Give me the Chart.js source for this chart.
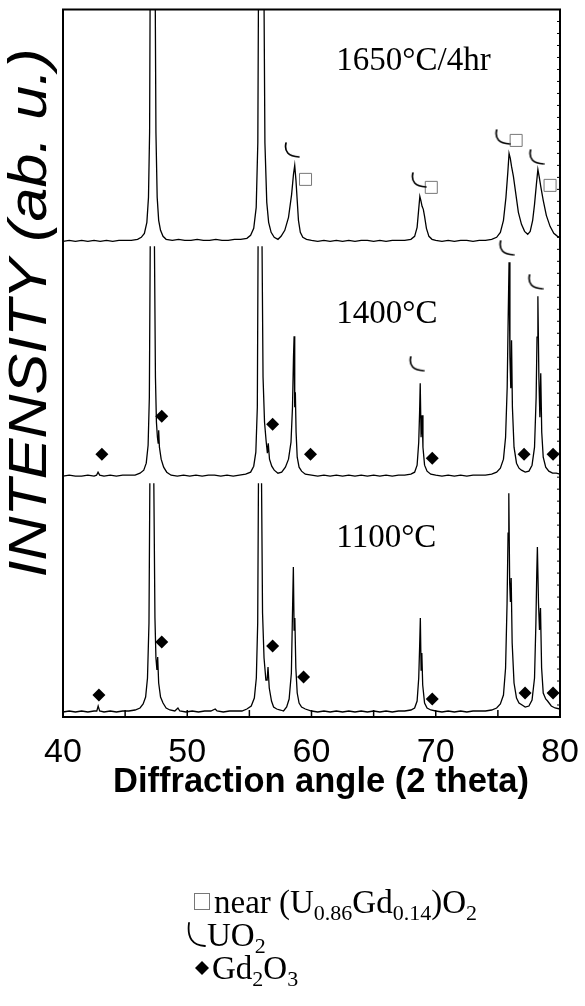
<!DOCTYPE html>
<html>
<head>
<meta charset="utf-8">
<script src="https://cdn.jsdelivr.net/npm/chart.js@4.4.1/dist/chart.umd.min.js"></script>
<style>
html, body { margin: 0; padding: 0; background: #fff; }
#wrap { width: 585px; height: 1006px; position: relative; }
</style>
</head>
<body>
<div id="wrap"><canvas id="xrd"></canvas></div>
<script>
// 2 theta / intensity, intensity above each trace's own baseline
// [angle, null] marks where a peak runs off the top of its band
var deg1650 = [
  [40,1],[40.5,2],[41,1],[41.5,2],[42,1],[42.5,2],[43,1],[43.5,2],[44,1],[44.5,2],[45,2],[45.5,2],[46,3],[46.3,5],[46.55,9],[46.75,20],[46.88,45],[46.97,110],[47.03,300],
  [47.4,300],[47.48,110],[47.58,45],[47.7,22],[47.85,12],[48.05,6],[48.3,3],[48.8,2],[49.3,3],[49.8,2],[50.3,2],[50.8,3],[51.3,2],[51.8,2],[52.3,3],[52.8,2],[53.3,2],[53.8,3],
  [54.3,3],[54.8,4],[55.1,7],[55.35,14],[55.55,35],[55.68,100],[55.75,300],[56.15,300],[56.25,100],[56.4,40],[56.55,20],[56.75,10],[57,5],[57.3,3],[57.55,6],[57.85,12],
  [58.15,25],[58.4,48],[58.55,68],[58.65,77],[58.75,62],[58.85,42],[58.95,22],[59.1,10],[59.3,5],[59.6,3],[60,2],[60.5,1],[61,2],[61.5,1],[62,2],[62.5,1],[63,2],[63.5,1],
  [64,2],[64.5,2],[65,1],[65.5,2],[66,1],[66.5,2],[67,2],[67.5,2],[68,3],[68.3,6],[68.5,15],[68.62,32],[68.72,46],[68.8,42],[68.9,36],[69,33],[69.1,26],[69.25,14],[69.45,6],
  [69.7,3],[70,2],[70.5,1],[71,2],[71.5,1],[72,2],[72.5,2],[73,1],[73.5,2],[74,2],[74.5,3],[74.9,5],[75.2,10],[75.45,22],[75.65,45],[75.8,70],[75.9,89],[76,84],[76.1,76],
  [76.25,66],[76.45,48],[76.65,30],[76.9,18],[77.15,11],[77.4,8],[77.6,11],[77.8,22],[77.95,38],[78.1,58],[78.22,73],[78.32,66],[78.45,56],[78.65,42],[78.9,27],[79.2,16],
  [79.5,9],[79.8,6],[80,5]
];
var deg1400 = [
  [40,1],[40.5,2],[41,1],[41.5,1],[42,2],[42.5,1],[42.7,2],[42.82,5],[42.95,2],[43.3,1],[43.8,2],[44.3,1],[44.8,2],[45.3,2],[45.8,2],[46.2,4],[46.5,7],[46.7,14],[46.85,32],
  [46.95,80],[47.02,231],[47.2,null],[47.36,231],[47.44,100],[47.52,55],[47.6,40],[47.66,34],[47.7,47],[47.76,30],[47.9,18],[48.1,10],[48.35,5],[48.7,2],[49.2,1],[49.7,2],
  [50.2,1],[50.7,2],[51.2,1],[51.7,2],[52.2,2],[52.7,1],[53.2,2],[53.7,1],[54.2,2],[54.7,3],[55.1,5],[55.35,11],[55.52,25],[55.64,70],[55.7,231],[55.85,null],[56.02,231],
  [56.1,100],[56.22,55],[56.35,36],[56.45,24],[56.52,34],[56.62,18],[56.8,11],[57,7],[57.3,4],[57.6,5],[57.9,10],[58.15,18],[58.35,35],[58.47,70],[58.55,120],[58.6,141],
  [58.65,70],[58.7,85],[58.76,45],[58.85,20],[59,10],[59.2,6],[59.5,3],[60,2],[60.5,1],[61,2],[61.5,1],[62,2],[62.5,1],[63,2],[63.5,1],[64,2],[64.5,1],[65,2],[65.5,1],
  [66,2],[66.5,1],[67,2],[67.5,2],[68,3],[68.3,5],[68.5,12],[68.63,35],[68.7,65],[68.75,94],[68.82,40],[68.9,62],[68.97,30],[69.1,12],[69.3,6],[69.6,3],[70,2],[70.5,1],
  [71,2],[71.5,1],[72,2],[72.5,1],[73,2],[73.5,2],[74,2],[74.5,3],[74.9,5],[75.2,9],[75.45,18],[75.62,40],[75.75,90],[75.83,160],[75.9,215],[75.97,120],[76.04,89],
  [76.1,137],[76.17,70],[76.3,30],[76.5,14],[76.7,9],[76.9,7],[77.2,5],[77.5,6],[77.75,12],[77.95,30],[78.08,80],[78.15,140],[78.22,181],[78.3,100],[78.38,60],[78.45,104],
  [78.53,45],[78.65,20],[78.85,10],[79.1,6],[79.4,4],[79.7,4],[80,3]
];
var deg1100 = [
  [40,1],[40.5,2],[41,1],[41.5,2],[42,1],[42.5,2],[42.72,2],[42.83,7],[42.95,2],[43.3,1],[43.8,2],[44.3,1],[44.8,2],[45.3,2],[45.8,3],[46.2,5],[46.45,9],[46.65,16],
  [46.8,35],[46.92,90],[46.99,230],[47.15,null],[47.31,230],[47.4,95],[47.48,55],[47.56,43],[47.62,56],[47.7,30],[47.85,16],[48.05,10],[48.3,5],[48.6,3],[49,2],[49.25,5],
  [49.4,2],[49.9,1],[50.4,2],[50.9,1],[51.4,2],[51.9,2],[52.25,4],[52.4,2],[52.9,1],[53.4,2],[53.9,2],[54.4,2],[54.8,4],[55.15,7],[55.4,15],[55.56,35],[55.67,90],
  [55.73,230],[55.85,null],[55.98,230],[56.06,100],[56.18,55],[56.33,33],[56.43,33],[56.5,46],[56.6,25],[56.78,12],[56.95,6],[57.2,4],[57.5,3],[57.75,2],[58,6],[58.2,14],
  [58.38,40],[58.47,100],[58.54,146],[58.6,83],[58.66,95],[58.74,45],[58.85,20],[59,10],[59.2,6],[59.5,4],[60,2],[60.5,1],[61,2],[61.5,1],[62,2],[62.5,1],[63,2],[63.5,1],
  [64,2],[64.5,1],[65,2],[65.5,1],[66,2],[66.5,1],[67,2],[67.5,2],[68,3],[68.3,5],[68.5,12],[68.63,35],[68.7,65],[68.76,95],[68.82,43],[68.88,60],[68.95,28],[69.1,10],
  [69.3,5],[69.6,3],[70,2],[70.5,1],[71,2],[71.5,1],[72,2],[72.5,1],[73,2],[73.5,2],[74,2],[74.5,3],[74.9,5],[75.2,9],[75.45,18],[75.62,45],[75.74,110],[75.82,180],
  [75.88,220],[75.95,130],[76.01,111],[76.07,135],[76.15,70],[76.3,30],[76.5,15],[76.7,10],[76.95,8],[77.2,6],[77.5,7],[77.75,13],[77.95,35],[78.06,90],[78.13,140],
  [78.18,166],[78.27,110],[78.35,83],[78.43,105],[78.52,45],[78.65,20],[78.85,14],[79,12],[79.3,7],[79.6,5],[80,4]
];

// baseline of each trace (stacked offsets)
var offsets = [4, 240, 475];
var tempLabels = ['1100\u00B0C', '1400\u00B0C', '1650\u00B0C/4hr'];

// phase markers: [angle, height above that trace's baseline]
var gd2o3Low = [[42.89,18],[47.95,71],[56.87,67],[59.36,36],[69.72,14],[77.19,20],[79.44,20]];
var gd2o3Mid = [[43.13,23],[47.95,61],[56.87,53],[59.92,23],[69.72,19],[77.11,23],[79.44,23]];
var uo2Mid = [[68.43,113],[75.66,229],[77.99,195]];
var uo2Top = [[58.39,92],[68.6,62],[75.34,105],[78.07,85]];
var ugdTop = [[59.52,63],[69.64,55],[76.47,102],[79.2,57]];

var xTicks = [40, 45, 50, 55, 60, 65, 70, 75, 80];

function pts(rows, off) {
  return rows.map(function(r) {
    return { x: r[0], y: r[1] === null ? null : r[1] + off };
  });
}

// the little "(" hook used for UO2
function hook(w, h, lw) {
  var c = document.createElement('canvas');
  c.width = w; c.height = h;
  var g = c.getContext('2d');
  g.strokeStyle = '#000';
  g.lineWidth = lw;
  g.lineCap = 'round';
  g.beginPath();
  g.moveTo(3, 1);
  g.quadraticCurveTo(0, h - 3, w - 1, h - 2);
  g.stroke();
  return c;
}
var hookImg = hook(17, 17, 1.7);

function trace(rows, off) {
  return { type: 'line', data: pts(rows, off), borderColor: '#000', borderWidth: 1.3,
           pointRadius: 0, tension: 0, spanGaps: false, order: 2 };
}
function marks(rows, off, style) {
  var ds = { type: 'scatter', data: pts(rows, off), order: 1, pointHoverRadius: 0 };
  return Object.assign(ds, style);
}
var diamond = { pointStyle: 'rectRot', pointRadius: 6.5, backgroundColor: '#000', borderColor: '#000', borderWidth: 0 };
var square = { pointStyle: 'rect', pointRadius: 8.5, backgroundColor: '#fff', borderColor: '#777', borderWidth: 1 };
var uo2 = { pointStyle: hookImg, pointRadius: 8 };

// frame, inward ticks, text labels and the key underneath
var decor = {
  id: 'decor',
  afterDraw: function(chart) {
    var ctx = chart.ctx, a = chart.chartArea;
    var xs = chart.scales.x, ys = chart.scales.y;
    ctx.save();
    ctx.strokeStyle = '#000';
    ctx.lineWidth = 2;
    ctx.strokeRect(a.left, a.top, a.right - a.left, a.bottom - a.top);
    ctx.lineWidth = 1.5;
    xTicks.forEach(function(t) {
      var px = xs.getPixelForValue(t);
      ctx.beginPath(); ctx.moveTo(px, a.bottom); ctx.lineTo(px, a.bottom - 7); ctx.stroke();
    });
    ctx.lineWidth = 1;
    for (var v = 12; v < ys.max; v += 12) {
      var py = ys.getPixelForValue(v);
      ctx.beginPath(); ctx.moveTo(a.right, py); ctx.lineTo(a.right - 3, py); ctx.stroke();
    }

    ctx.fillStyle = '#000';
    ctx.font = '33px "Liberation Serif"';
    ctx.textBaseline = 'alphabetic';
    ctx.textAlign = 'left';
    var lx = xs.getPixelForValue(62.0);
    ctx.fillText(tempLabels[2], lx, ys.getPixelForValue(offsets[2] + 172));
    ctx.fillText(tempLabels[1], lx, ys.getPixelForValue(offsets[1] + 154));
    ctx.fillText(tempLabels[0], lx, ys.getPixelForValue(offsets[0] + 166));

    // x-axis title sits a little right of the plot centre
    ctx.textAlign = 'center';
    ctx.textBaseline = 'middle';
    ctx.font = 'bold 34.5px "Liberation Sans"';
    ctx.fillText('Diffraction angle (2 theta)', 321, 782);

    ctx.save();
    ctx.translate(31, 313);
    ctx.rotate(-Math.PI / 2);
    ctx.scale(1.13, 1);
    ctx.font = 'italic 54px "Liberation Sans"';
    ctx.fillText('INTENSITY (ab. u.)', 0, 0);
    ctx.restore();

    // key
    function rich(parts, x, y) {
      parts.forEach(function(p) {
        ctx.font = p[1] ? '22px "Liberation Serif"' : '33px "Liberation Serif"';
        ctx.fillText(p[0], x, y + (p[1] ? 7 : 0));
        x += ctx.measureText(p[0]).width;
      });
    }
    ctx.textAlign = 'left';
    ctx.textBaseline = 'alphabetic';
    ctx.strokeStyle = '#777';
    ctx.lineWidth = 1;
    ctx.fillStyle = '#fff';
    ctx.fillRect(194.5, 893.5, 15, 16);
    ctx.strokeRect(194.5, 893.5, 15, 16);
    ctx.fillStyle = '#000';
    rich([['near (U'], ['0.86', 1], ['Gd'], ['0.14', 1], [')O'], ['2', 1]], 214, 913);
    ctx.drawImage(hook(20, 26, 1.8), 186, 922);
    rich([['UO'], ['2', 1]], 207, 946);
    ctx.beginPath();
    ctx.moveTo(195, 968); ctx.lineTo(202, 961); ctx.lineTo(209, 968); ctx.lineTo(202, 975);
    ctx.closePath(); ctx.fill();
    rich([['Gd'], ['2', 1], ['O'], ['3', 1]], 212, 979);
    ctx.restore();
  }
};

new Chart(document.getElementById('xrd'), {
  data: {
    datasets: [
      trace(deg1100, offsets[0]),
      trace(deg1400, offsets[1]),
      trace(deg1650, offsets[2]),
      marks(gd2o3Low, offsets[0], diamond),
      marks(gd2o3Mid, offsets[1], diamond),
      marks(uo2Mid, offsets[1], uo2),
      marks(uo2Top, offsets[2], uo2),
      marks(ugdTop, offsets[2], square)
    ]
  },
  options: {
    responsive: true,
    maintainAspectRatio: false,
    animation: false,
    events: [],
    layout: { padding: { top: 9, right: 25, left: 63, bottom: 199 } },
    plugins: { legend: { display: false }, tooltip: { enabled: false } },
    scales: {
      x: {
        type: 'linear', min: 40, max: 80,
        grid: { display: false },
        border: { display: false },
        ticks: { stepSize: 10, color: '#000', padding: 7, maxRotation: 0,
                 font: { family: 'Liberation Sans', size: 34 } },
        title: { display: false },
        afterFit: function(s) { s.height = 90; s.paddingLeft = 0; s.paddingRight = 0; }
      },
      y: { type: 'linear', min: 0, max: 708, display: false }
    }
  },
  plugins: [decor]
});
</script>
</body>
</html>
